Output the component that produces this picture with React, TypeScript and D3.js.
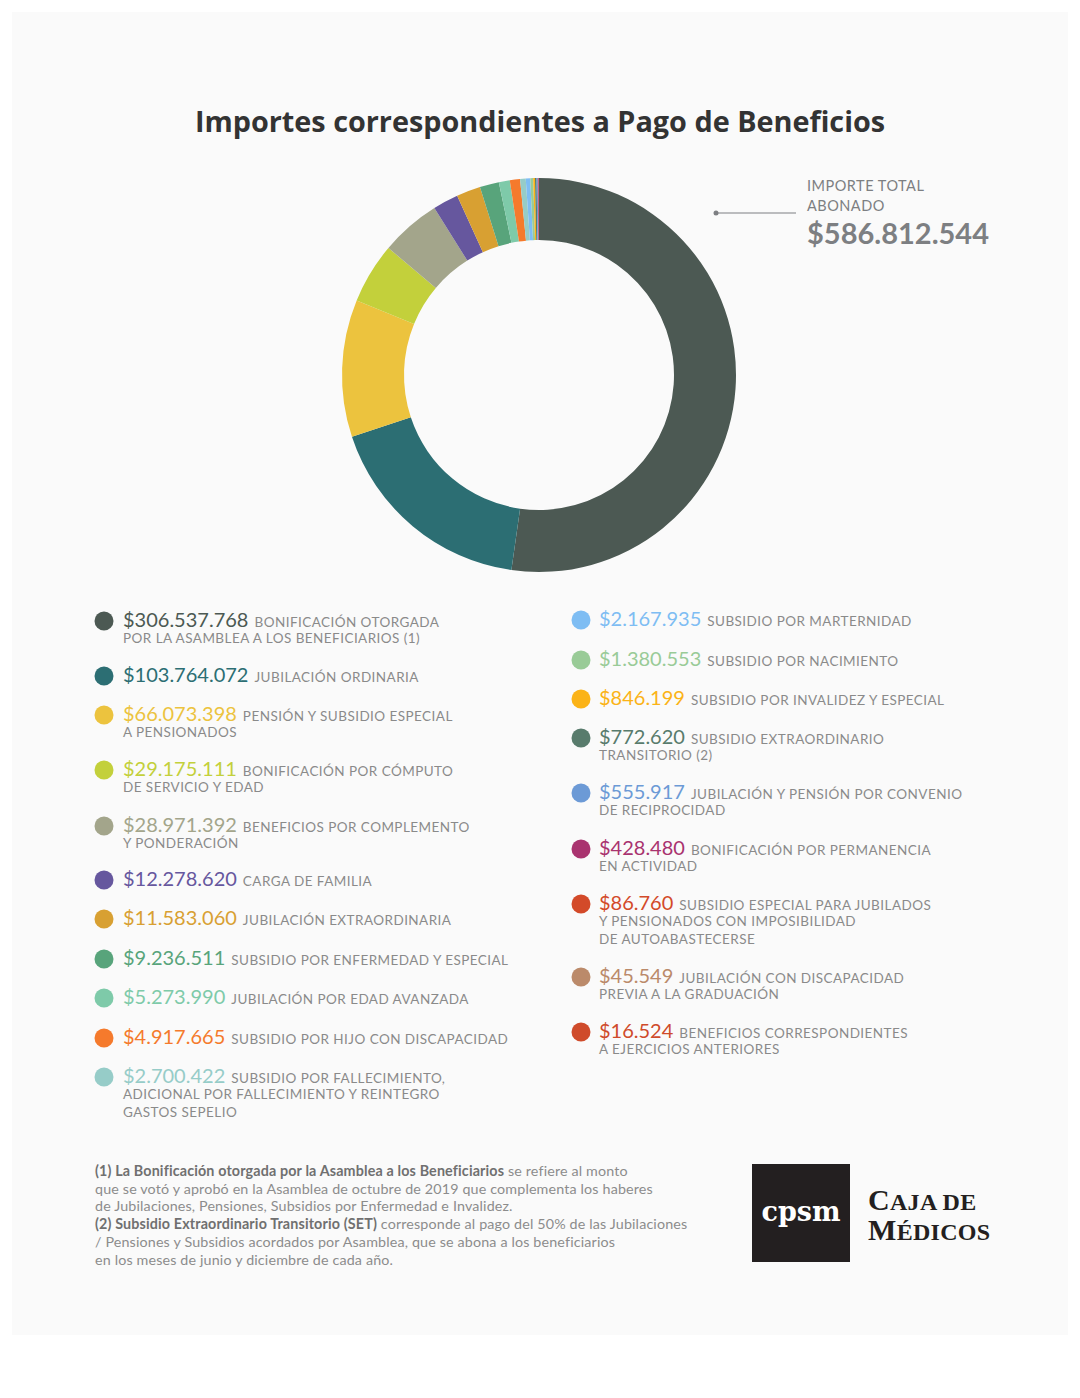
import React from "react";
import * as d3 from "d3";

const amounts = [
  306537768, 103764072, 66073398, 29175111, 28971392, 12278620, 11583060,
  9236511, 5273990, 4917665, 2700422, 2167935, 1380553, 846199, 772620,
  555917, 428480, 86760, 45549, 16524,
];

const amountLabels = [
  "$306.537.768", "$103.764.072", "$66.073.398", "$29.175.111", "$28.971.392",
  "$12.278.620", "$11.583.060", "$9.236.511", "$5.273.990", "$4.917.665",
  "$2.700.422", "$2.167.935", "$1.380.553", "$846.199", "$772.620",
  "$555.917", "$428.480", "$86.760", "$45.549", "$16.524",
];

const categoryLines: string[][] = [
  ["BONIFICACIÓN OTORGADA", "POR LA ASAMBLEA A LOS BENEFICIARIOS (1)"],
  ["JUBILACIÓN ORDINARIA"],
  ["PENSIÓN Y SUBSIDIO ESPECIAL", "A PENSIONADOS"],
  ["BONIFICACIÓN POR CÓMPUTO", "DE SERVICIO Y EDAD"],
  ["BENEFICIOS POR COMPLEMENTO", "Y PONDERACIÓN"],
  ["CARGA DE FAMILIA"],
  ["JUBILACIÓN EXTRAORDINARIA"],
  ["SUBSIDIO POR ENFERMEDAD Y ESPECIAL"],
  ["JUBILACIÓN POR EDAD AVANZADA"],
  ["SUBSIDIO POR HIJO CON DISCAPACIDAD"],
  ["SUBSIDIO POR FALLECIMIENTO,", "ADICIONAL POR FALLECIMIENTO Y REINTEGRO", "GASTOS SEPELIO"],
  ["SUBSIDIO POR MARTERNIDAD"],
  ["SUBSIDIO POR NACIMIENTO"],
  ["SUBSIDIO POR INVALIDEZ Y ESPECIAL"],
  ["SUBSIDIO EXTRAORDINARIO", "TRANSITORIO (2)"],
  ["JUBILACIÓN Y PENSIÓN POR CONVENIO", "DE RECIPROCIDAD"],
  ["BONIFICACIÓN POR PERMANENCIA", "EN ACTIVIDAD"],
  ["SUBSIDIO ESPECIAL PARA JUBILADOS", "Y PENSIONADOS CON IMPOSIBILIDAD", "DE AUTOABASTECERSE"],
  ["JUBILACIÓN CON DISCAPACIDAD", "PREVIA A LA GRADUACIÓN"],
  ["BENEFICIOS CORRESPONDIENTES", "A EJERCICIOS ANTERIORES"],
];

const colors = [
  "#4c5953", "#2c6e73", "#ecc33e", "#c3d03b", "#a3a58b", "#66579e", "#d8a032",
  "#58a47b", "#7ecaa9", "#f57a2c", "#96ccc8", "#7ebdf3", "#99cb97", "#fbb317",
  "#587b6c", "#6c9ad6", "#a9336f", "#d34a29", "#bb8a6a", "#cf4b2b",
];

const totalLabel = ["IMPORTE TOTAL", "ABONADO"];
const totalValue = "$586.812.544";

const footnotes: { bold: string; rest: string }[] = [
  { bold: "(1) La Bonificación otorgada por la Asamblea a los Beneficiarios", rest: " se refiere al monto" },
  { bold: "", rest: "que se votó y aprobó en la Asamblea de octubre de 2019 que complementa los haberes" },
  { bold: "", rest: "de Jubilaciones, Pensiones, Subsidios por Enfermedad e Invalidez." },
  { bold: "(2) Subsidio Extraordinario Transitorio (SET)", rest: " corresponde al pago del 50% de las Jubilaciones" },
  { bold: "", rest: "/ Pensiones y Subsidios acordados por Asamblea, que se abona a los beneficiarios" },
  { bold: "", rest: "en los meses de junio y diciembre de cada año." },
];

// legend layout: y of first line center per entry
const leftRowY = [621, 676, 715, 770, 826, 880, 919, 959, 998, 1038, 1077];
const rightRowY = [620, 660, 699, 738, 793, 849, 904, 977, 1032];

const FONT = "Lato, 'Open Sans', sans-serif";
const SERIF = "'Liberation Serif', 'DejaVu Serif', serif";

export default function App() {
  const cx = 539;
  const cy = 375;
  const outerR = 197;
  const innerR = 135;

  const pie = d3.pie<number>().sort(null).value((d) => d)(amounts);
  const arc = d3.arc<d3.PieArcDatum<number>>().innerRadius(innerR).outerRadius(outerR);

  const legendItems = amounts.map((_, i) => {
    const left = i < leftRowY.length;
    const y = left ? leftRowY[i] : rightRowY[i - leftRowY.length];
    const dotX = left ? 104 : 581;
    const textX = left ? 123 : 599;
    return { i, y, dotX, textX };
  });

  return (
    <div style={{ position: "absolute", left: 0, top: 0, width: 1080, height: 1398, background: "#fff" }}>
      <svg width={1080} height={1398} viewBox="0 0 1080 1398" style={{ display: "block" }}>
        <rect x={12} y={12} width={1056} height={1323} fill="#fafafa" />
        <text x={540} y={132} textAnchor="middle" fontFamily="'Open Sans', Lato, sans-serif" fontWeight={700} fontSize={28.8} fill="#333333">
          Importes correspondientes a Pago de Beneficios
        </text>

        <g transform={`translate(${cx},${cy})`}>
          {pie.map((p, i) => (
            <path key={i} d={arc(p) || ""} fill={colors[i]} />
          ))}
        </g>

        {/* total annotation */}
        <circle cx={716} cy={213} r={2.5} fill="#7d7f82" />
        <line x1={716} y1={213} x2={796} y2={213} stroke="#7d7f82" strokeWidth={1} />
        {totalLabel.map((t, k) => (
          <text key={k} x={807} y={191 + k * 20} fontFamily={FONT} fontSize={14.5} letterSpacing={0.5} fill="#7d7f82">
            {t}
          </text>
        ))}
        <text x={807} y={244} fontFamily={FONT} fontWeight={700} fontSize={29} fill="#7d7f82">
          {totalValue}
        </text>

        {/* legend */}
        {legendItems.map(({ i, y, dotX, textX }) => (
          <g key={i}>
            <circle cx={dotX} cy={y} r={9.5} fill={colors[i]} />
            <text x={textX} y={y + 6} fontFamily={FONT}>
              <tspan fontSize={20} fill={colors[i]}>{amountLabels[i]}</tspan>
              <tspan fontSize={13.5} letterSpacing={0.45} fill="#8a8a8a" dx={6}>{categoryLines[i][0]}</tspan>
            </text>
            {categoryLines[i].slice(1).map((line, k) => (
              <text key={k} x={textX} y={y + 22 + k * 17.5} fontFamily={FONT} fontSize={13.5} letterSpacing={0.45} fill="#8a8a8a">
                {line}
              </text>
            ))}
          </g>
        ))}

        {/* footnotes */}
        {footnotes.map((f, k) => (
          <text key={k} x={95} y={1176 + k * 17.7} fontFamily={FONT} fontSize={14.3} letterSpacing={0.15} fill="#8c8c8c">
            {f.bold && <tspan fontWeight={700} fill="#707070">{f.bold}</tspan>}
            <tspan>{f.rest}</tspan>
          </text>
        ))}

        {/* logo */}
        <rect x={752} y={1164} width={98} height={98} fill="#231f20" />
        <text x={801} y={1221} textAnchor="middle" fontFamily="'DejaVu Serif', 'Liberation Serif', serif" fontWeight={700} fontSize={27} fill="#ffffff">
          cpsm
        </text>
        <text x={868} y={1210} fontFamily={SERIF} fontWeight={700} fill="#231f20" letterSpacing={0.3}>
          <tspan fontSize={30}>C</tspan>
          <tspan fontSize={24}>AJA DE</tspan>
        </text>
        <text x={868} y={1240} fontFamily={SERIF} fontWeight={700} fill="#231f20" letterSpacing={0.3}>
          <tspan fontSize={30}>M</tspan>
          <tspan fontSize={24}>ÉDICOS</tspan>
        </text>
      </svg>
    </div>
  );
}
